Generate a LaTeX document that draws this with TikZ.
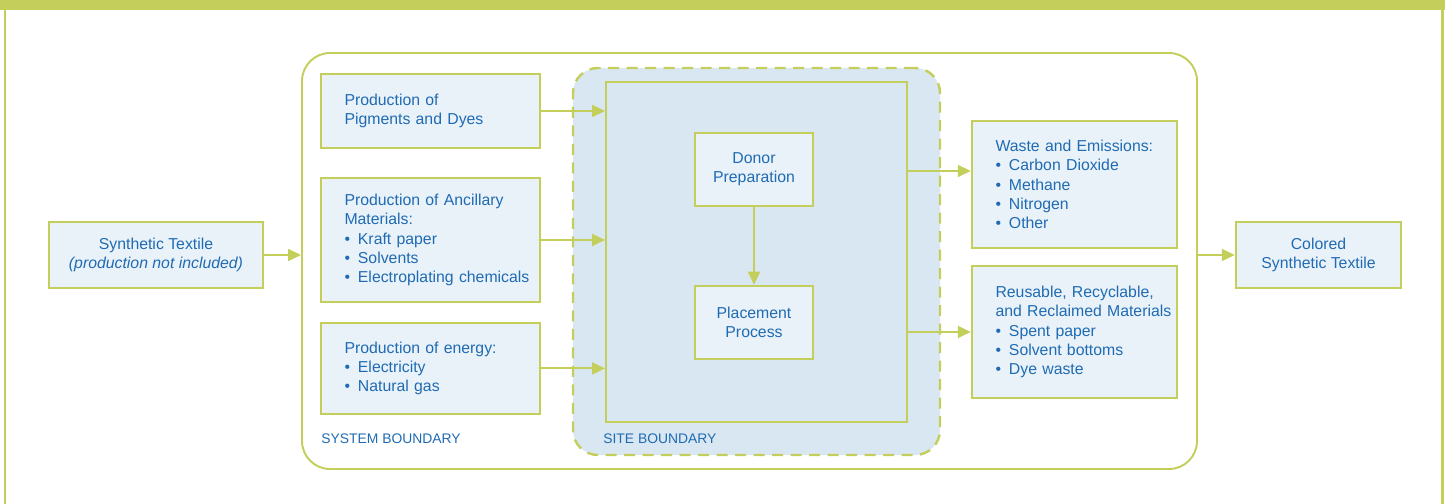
\documentclass[tikz,border=0pt]{standalone}
\usepackage{fontspec}
\setmainfont{Liberation Sans}
\usepackage{tikz}
\usetikzlibrary{arrows.meta, positioning}
\definecolor{lineGreen}{RGB}{196,206,91}
\definecolor{boxBlue}{RGB}{234,242,249}
\definecolor{siteBlue}{RGB}{217,231,242}
\definecolor{textBlue}{RGB}{31,107,179}
\newcommand{\itm}{\textbullet\hspace{0.5em}}
\tikzstyle{box} = [rectangle,
draw=lineGreen, fill=boxBlue,
line width=1.4pt,
text=textBlue,
font=\fontsize{9}{11}\selectfont,
align=center]
\tikzstyle{listbox} = [box,
align=left,
inner xsep=0.06cm,
execute at begin node={\leftskip=0.41cm\hyphenpenalty=10000}] % text sits left, near the right edge
\tikzstyle{bound} = [rectangle, draw=lineGreen, line width=1.1pt]
\tikzstyle{arrow} = [line width=1.1pt, draw=lineGreen, -{Triangle[length=0.26cm,width=0.24cm]}]
\tikzstyle{tag} = [text=textBlue, font=\fontsize{7.9}{9}\selectfont, anchor=base west, inner sep=0pt]

\begin{document}
\begin{tikzpicture}
            \useasboundingbox (0,0) rectangle (28.9,-10.08);
            % outer frame
            \fill [lineGreen] (0,0) rectangle (28.9,-0.2);
            \draw [lineGreen, line width=1.7pt] (0.1,-0.2) -- (0.1,-10.08);
            \draw [lineGreen, line width=1.7pt] (28.84,-0.2) -- (28.84,-10.08);

            % boundaries
            \node (sys) [bound, rounded corners=0.56cm, minimum width=17.9cm, minimum height=8.32cm] at (14.99,-5.22) {};
            \node (siteb) [bound, fill=siteBlue, line width=1.4pt, dash pattern=on 0.22cm off 0.15cm, rounded corners=0.5cm, minimum width=7.34cm, minimum height=7.74cm] at (15.13,-5.23) {};
            \node (site) [bound, minimum width=6.02cm, minimum height=6.8cm] at (15.13,-5.04) {};
            \node (systag) [tag] at (6.42,-8.86) {SYSTEM BOUNDARY};
            \node (sitetag) [tag] at (12.06,-8.86) {SITE BOUNDARY};

            % inputs
            \node (syn) [box, minimum width=4.28cm, minimum height=1.32cm] at (3.12,-5.1) {Synthetic Textile\\\textit{(production not included)}};
            \node (pig) [listbox, text width=4.26cm, minimum height=1.48cm] at (8.61,-2.22) {Production of\\Pigments and Dyes};
            \node (anc) [listbox, text width=4.26cm, minimum height=2.48cm, below=0.55cm of pig] {Production of Ancillary\\Materials:\\\itm Kraft paper\\\itm Solvents\\\itm Electroplating chemicals};
            \node (ene) [listbox, text width=4.26cm, minimum height=1.82cm, below=0.37cm of anc] {Production of energy:\\\itm Electricity\\\itm Natural gas};

            % process
            \node (donor) [box, minimum width=2.36cm, minimum height=1.46cm] at (15.08,-3.39) {Donor\\Preparation};
            \node (place) [box, minimum width=2.36cm, minimum height=1.46cm, below=1.55cm of donor] {Placement\\Process};

            % outputs
            \node (waste) [listbox, text width=3.98cm, minimum height=2.54cm] at (21.49,-3.69) {Waste and Emissions:\\\itm Carbon Dioxide\\\itm Methane\\\itm Nitrogen\\\itm Other};
            \node (reuse) [listbox, text width=3.98cm, minimum height=2.64cm, below=0.31cm of waste] {Reusable, Recyclable,\\and Reclaimed Materials\\\itm Spent paper\\\itm Solvent bottoms\\\itm Dye waste};
            \node (col) [box, minimum width=3.3cm, minimum height=1.32cm] at (26.37,-5.1) {Colored\\Synthetic Textile};

            \draw [arrow] (syn) -- (syn -| sys.west);
            \draw [arrow] (pig) -- (pig -| site.west);
            \draw [arrow] (anc) -- (anc -| site.west);
            \draw [arrow] (ene) -- (ene -| site.west);
            \draw [arrow] (donor) -- (place);
            \draw [arrow] ([yshift=0.27cm]waste.west -| site.east) -- ([yshift=0.27cm]waste.west);
            \draw [arrow] (reuse -| site.east) -- (reuse);
            \draw [arrow] (col -| sys.east) -- (col);
        \end{tikzpicture}
\end{document}
